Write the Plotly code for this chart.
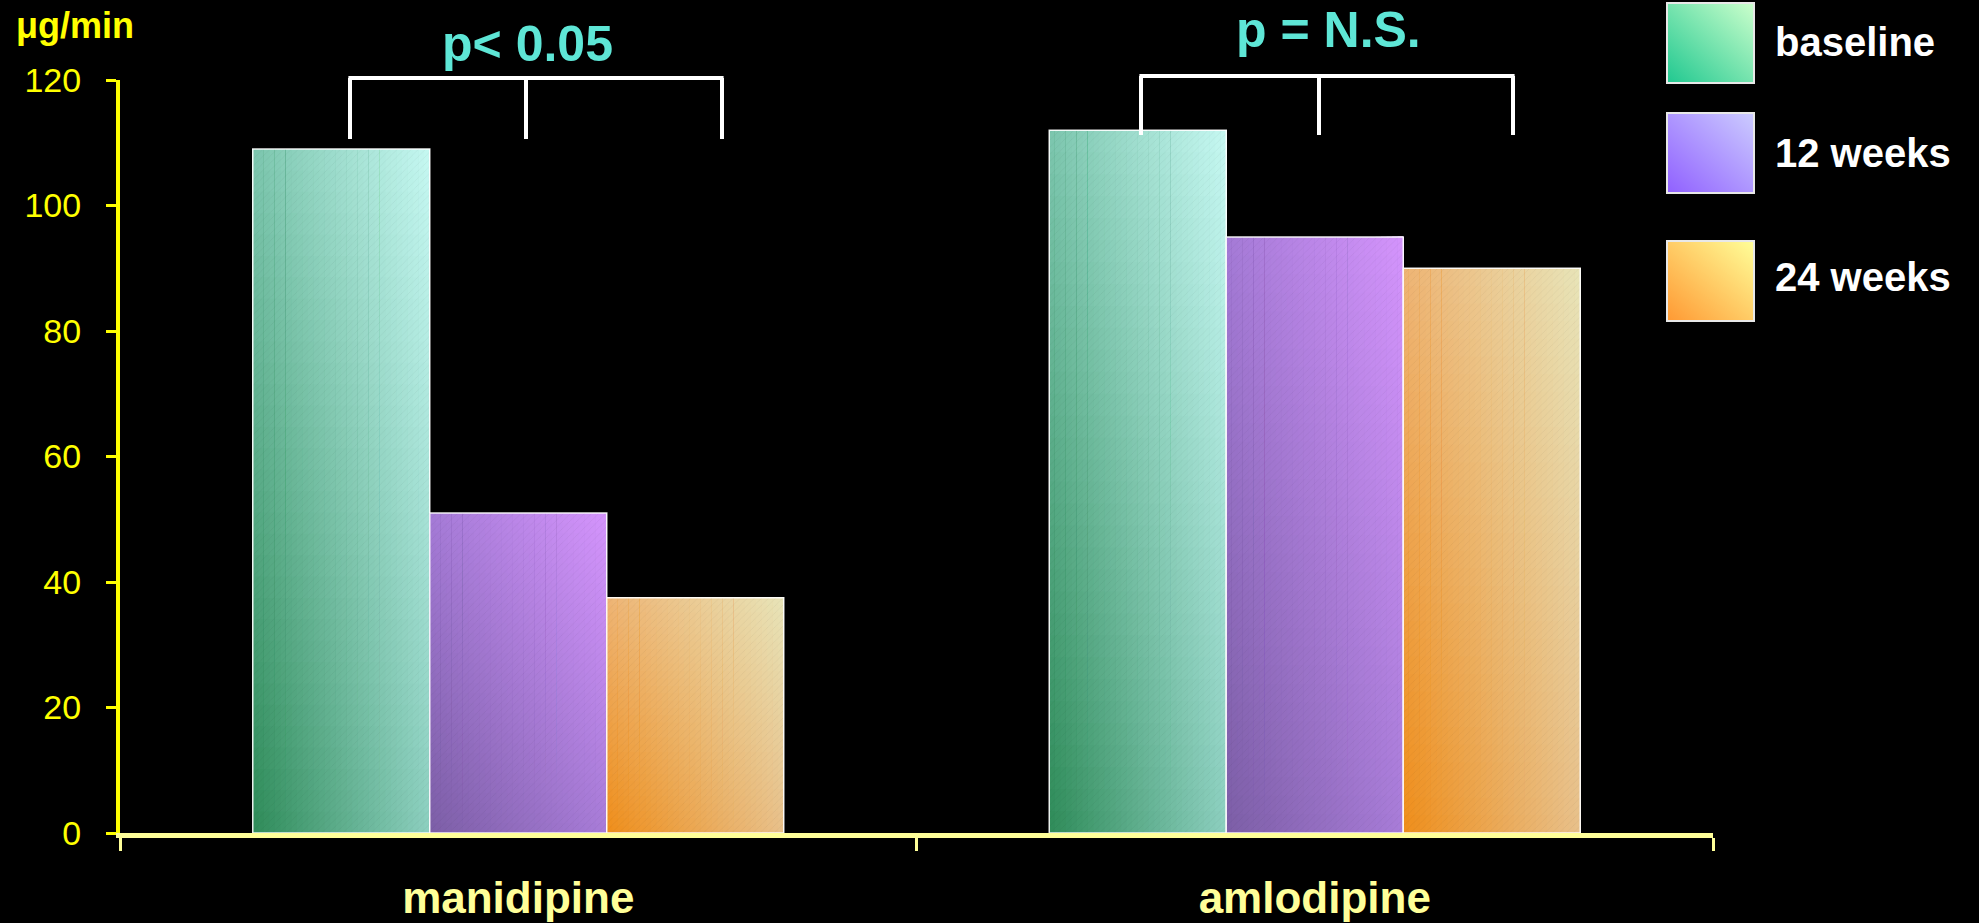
import base64
import plotly.graph_objects as go

# ---------------- data ----------------
categories = ["manidipine", "amlodipine"]
series_names = ["baseline", "12 weeks", "24 weeks"]
baseline_vals = [109, 112]
week12_vals = [51, 95]
week24_vals = [37.5, 90]
y_ticks = [0, 20, 40, 60, 80, 100, 120]
p_labels = ["p< 0.05", "p = N.S."]
y_title = "μg/min"

series_vals = [baseline_vals, week12_vals, week24_vals]

# ---------------- styles ----------------
# bilinear corner colours for each bar gradient: bottom-left, bottom-right, top-left, top-right
bar_corners = [
    ("#2e8b58", "#8ccfbf", "#7cc6ae", "#c6f8f2"),
    ("#7c5ea6", "#a87cd8", "#a47ad6", "#d494fc"),
    ("#ef8e1a", "#e8c08a", "#eeb474", "#e8e4b8"),
]
legend_grad = [("#20c890", "#ccffcc"), ("#9060ff", "#ccccff"), ("#ff9933", "#ffff99")]

W, H = 1979, 923
ML, MR, MT, MB = 120, 266, 80, 90
PW, PH = W - ML - MR, H - MT - MB


def hex2rgb(h):
    h = h.lstrip("#")
    return [int(h[i:i + 2], 16) for i in (0, 2, 4)]


def bilinear(c, fx, fy):
    bl, br, tl, tr = [hex2rgb(v) for v in c]
    out = []
    for k in range(3):
        b = bl[k] + (br[k] - bl[k]) * fx
        t = tl[k] + (tr[k] - tl[k]) * fx
        out.append(round(b + (t - b) * fy))
    return "rgb(%d,%d,%d)" % tuple(out)


fig = go.Figure()

group_w = 2 / 3
bar_w = group_w / 3
N, M = 32, 32

for s, vals in enumerate(series_vals):
    off0 = -group_w / 2 + s * bar_w
    xs, offs, wids, bases, ys, cols = [], [], [], [], [], []
    for k, cat in enumerate(categories):
        v = vals[k]
        for i in range(N):
            for j in range(M):
                xs.append(cat)
                offs.append(off0 + bar_w * i / N)
                wids.append(bar_w * (N - i) / N)
                bases.append(v * j / M)
                ys.append(v - v * j / M)
                cols.append(bilinear(bar_corners[s], (i + 0.5) / N, (j + 0.5) / M))
    fig.add_trace(go.Bar(
        x=xs, y=ys, base=bases, offset=offs, width=wids,
        marker=dict(color=cols, line=dict(width=0)),
        hoverinfo="skip", showlegend=False,
    ))
    # outline / texture bar
    fig.add_trace(go.Bar(
        x=categories, y=vals, offset=off0, width=bar_w, name=series_names[s],
        marker=dict(color="rgba(0,0,0,0)",
                    line=dict(color="rgba(255,255,255,0.9)", width=1.5),
                    pattern=dict(shape="/", fgcolor="rgba(0,0,0,0.10)", size=5, solidity=0.15)),
        showlegend=False,
    ))

# ---------------- annotations / decorations ----------------
def px2paper_x(px):
    return (px - ML) / PW


def px2paper_y(py):
    return (H - MB - py) / PH


shapes = []
brackets = [
    (350, 526, 722, 78, 139),
    (1141, 1319, 1513, 76, 135),
]
for (xa, xb, xc, ytop, ybot) in brackets:
    yt, yb = px2paper_y(ytop), px2paper_y(ybot)
    line = dict(color="white", width=4)
    shapes.append(dict(type="line", xref="paper", yref="paper", x0=px2paper_x(xa) - 0.001, x1=px2paper_x(xc) + 0.001, y0=yt, y1=yt, line=line))
    for xx in (xa, xb, xc):
        shapes.append(dict(type="line", xref="paper", yref="paper", x0=px2paper_x(xx), x1=px2paper_x(xx), y0=yt, y1=yb, line=line))

annotations = []
# p< 0.05 centred, p = N.S. anchored at the top edge
annotations.append(dict(text=p_labels[0], x=px2paper_x(527), y=px2paper_y(44), xref="paper", yref="paper",
                        showarrow=False, xanchor="center", yanchor="middle",
                        font=dict(family="Liberation Sans", size=50, color="#5ee6d6", weight="bold")))
annotations.append(dict(text=p_labels[1], x=px2paper_x(1328), y=px2paper_y(0), xref="paper", yref="paper",
                        showarrow=False, xanchor="center", yanchor="top",
                        font=dict(family="Liberation Sans", size=50, color="#5ee6d6", weight="bold")))

annotations.append(dict(text=y_title, x=px2paper_x(14), y=px2paper_y(25), xref="paper", yref="paper",
                        showarrow=False, xanchor="left", yanchor="middle",
                        font=dict(family="Liberation Sans", size=36, color="#ffff00", weight="bold")))

images = []
sq_tops = [3, 113, 241]
txt_centers = [42, 153, 277]
sq_left, sq_size_x, sq_size_y = 1667, 87, 80
for s in range(3):
    c0, c1 = legend_grad[s]
    svg = ("<svg xmlns='http://www.w3.org/2000/svg' width='100' height='100' preserveAspectRatio='none'>"
           "<defs><linearGradient id='g' x1='0' y1='1' x2='1' y2='0'>"
           f"<stop offset='0' stop-color='{c0}'/><stop offset='1' stop-color='{c1}'/>"
           "</linearGradient></defs><rect width='100' height='100' fill='url(#g)'/></svg>")
    src = "data:image/svg+xml;base64," + base64.b64encode(svg.encode()).decode()
    images.append(dict(source=src, xref="paper", yref="paper",
                       x=px2paper_x(sq_left), y=px2paper_y(sq_tops[s]),
                       sizex=sq_size_x / PW, sizey=sq_size_y / PH,
                       xanchor="left", yanchor="top", sizing="stretch", layer="above"))
    shapes.append(dict(type="rect", xref="paper", yref="paper",
                       x0=px2paper_x(sq_left), x1=px2paper_x(sq_left + sq_size_x),
                       y0=px2paper_y(sq_tops[s] + sq_size_y), y1=px2paper_y(sq_tops[s]),
                       line=dict(color="#e8e8e8", width=2)))
    annotations.append(dict(text=series_names[s], x=px2paper_x(1773), y=px2paper_y(txt_centers[s]),
                            xref="paper", yref="paper", showarrow=False, xanchor="left", yanchor="middle",
                            font=dict(family="Liberation Sans", size=40, color="white", weight="bold")))

fig.update_layout(
    width=W, height=H,
    margin=dict(l=ML, r=MR, t=MT, b=MB, pad=0, autoexpand=False),
    paper_bgcolor="black", plot_bgcolor="black",
    barmode="overlay",
    showlegend=False,
    shapes=shapes, annotations=annotations, images=images,
    xaxis=dict(type="category", categoryorder="array", categoryarray=categories,
               range=[-0.5, 1.5], tickson="boundaries", ticks="outside", ticklen=13, tickwidth=3,
               tickcolor="#ffff99", showline=True, linecolor="#ffff99", linewidth=5,
               showgrid=False, zeroline=False, ticklabelstandoff=22, automargin=False,
               tickfont=dict(family="Liberation Sans", size=44, color="#ffff99", weight="bold")),
    yaxis=dict(range=[0, 120], tickvals=y_ticks, ticks="outside", ticklen=10, tickwidth=3,
               tickcolor="#ffff00", showline=True, linecolor="#ffff00", linewidth=4,
               showgrid=False, zeroline=False, ticklabelstandoff=18, automargin=False,
               tickfont=dict(family="Liberation Sans", size=34, color="#ffff00")),
)

fig.write_html(
    "out.html",
    config={"displayModeBar": False},
    post_script="document.body.style.margin='0';document.body.style.background='black';",
)
